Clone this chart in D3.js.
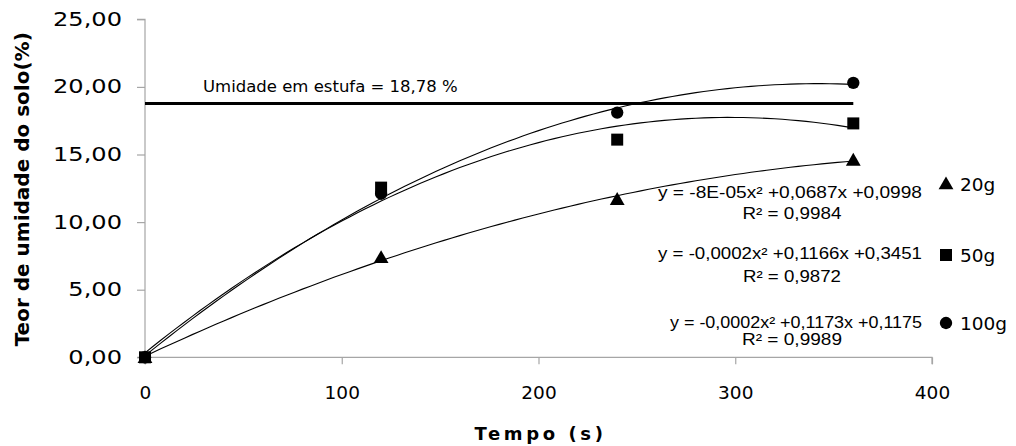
<!DOCTYPE html>
<html>
<head>
<meta charset="utf-8">
<script src="https://cdn.jsdelivr.net/npm/d3@7"></script>
<style>
  body { margin: 0; background: #fff; }
  svg { display: block; }
</style>
</head>
<body>
<div id="chart"></div>
<script>
// tempo (s) e teor de umidade
var tempos = [0, 120, 240, 360];
var umid20 = [0, 7.4, 11.7, 14.6];
var umid50 = [0, 12.55, 16.1, 17.3];
var umid100 = [0, 12.1, 18.1, 20.3];
var seriesNames = ['20g', '50g', '100g'];
var equacoes = [
  'y = -8E-05x² +0,0687x +0,0998',
  'y = -0,0002x² +0,1166x +0,3451',
  'y = -0,0002x² +0,1173x +0,1175'
];
var r2 = ['R² = 0,9984', 'R² = 0,9872', 'R² = 0,9989'];
var estufa = 18.78;
var xTicks = [0, 100, 200, 300, 400];
var yTicks = [0, 5, 10, 15, 20, 25];

var W = 1016, H = 446;
var pLeft = 145, pRight = 932, pTop = 19.3, pBottom = 357.3;

var svg = d3.select('#chart').append('svg')
  .attr('width', W)
  .attr('height', H);

svg.append('rect').attr('width', W).attr('height', H).attr('fill', '#fff');

var x = d3.scaleLinear().domain([0, 400]).range([pLeft, pRight]);
var y = d3.scaleLinear().domain([0, 25]).range([pBottom, pTop]);

var fmt = function(d) { return d3.format('.2f')(d).replace('.', ','); };

// eixos
var yAxis = svg.append('g')
  .attr('transform', 'translate(' + pLeft + ',0)')
  .call(d3.axisLeft(y).tickValues(yTicks).tickSize(8).tickPadding(15).tickFormat(fmt));
yAxis.selectAll('text')
  .attr('font-family', 'DejaVu Sans, Verdana, sans-serif')
  .attr('font-size', 19)
  .attr('textLength', function(d) {
    // largura esticada como no original (rotulos do Excel)
    var digitos = fmt(d).length - 1;
    return 24.1 * (digitos * 0.636 + 0.318);
  })
  .attr('lengthAdjust', 'spacingAndGlyphs')
  .attr('fill', '#000');

var xAxis = svg.append('g')
  .attr('transform', 'translate(0,' + pBottom + ')')
  .call(d3.axisBottom(x).tickValues(xTicks).tickSize(7).tickPadding(22));
xAxis.selectAll('text')
  .attr('font-family', 'DejaVu Sans, Verdana, sans-serif')
  .attr('font-size', 18.5)
  .attr('fill', '#000');

svg.selectAll('.domain, .tick line')
  .attr('stroke', '#a6a6a6')
  .attr('stroke-width', 1.2);
xAxis.select('.domain').attr('d', 'M' + pLeft + ',7V0H' + pRight + 'V7');
yAxis.select('.domain').attr('d', 'M-8,' + pTop + 'H0V' + pBottom + 'H-8');

// titulos
svg.append('text')
  .attr('transform', 'translate(29,' + ((pTop + pBottom) / 2 + 1) + ') rotate(-90)')
  .attr('text-anchor', 'middle')
  .attr('font-family', 'DejaVu Sans, Verdana, sans-serif')
  .attr('font-weight', 'bold')
  .attr('font-size', 20)
  .text('Teor de umidade do solo(%)');

svg.append('text')
  .attr('x', (pLeft + pRight) / 2 + 2)
  .attr('y', 440)
  .attr('text-anchor', 'middle')
  .attr('font-family', 'DejaVu Sans, Verdana, sans-serif')
  .attr('font-weight', 'bold')
  .attr('font-size', 18)
  .attr('letter-spacing', 3.6)
  .text('Tempo (s)');

// linha da umidade em estufa
svg.append('line')
  .attr('x1', x(0)).attr('x2', x(360))
  .attr('y1', y(estufa)).attr('y2', y(estufa))
  .attr('stroke', '#000')
  .attr('stroke-width', 3);

svg.append('text')
  .attr('x', 203)
  .attr('y', y(estufa) - 11)
  .attr('font-family', 'DejaVu Sans, Tahoma, sans-serif')
  .attr('font-size', 16.5)
  .text('Umidade em estufa = ' + fmt(estufa) + ' %');

// ajuste polinomial de 2a ordem (minimos quadrados)
function ajuste(xs, ys) {
  var s = [0, 0, 0, 0, 0], t = [0, 0, 0];
  xs.forEach(function(xi, i) {
    for (var k = 0; k < 5; k++) s[k] += Math.pow(xi, k);
    for (var k = 0; k < 3; k++) t[k] += Math.pow(xi, k) * ys[i];
  });
  var m = [[s[0], s[1], s[2], t[0]], [s[1], s[2], s[3], t[1]], [s[2], s[3], s[4], t[2]]];
  for (var i = 0; i < 3; i++) {
    for (var j = i + 1; j < 3; j++) {
      var f = m[j][i] / m[i][i];
      for (var k = i; k < 4; k++) m[j][k] -= f * m[i][k];
    }
  }
  var c = [0, 0, 0];
  for (var i = 2; i >= 0; i--) {
    var v = m[i][3];
    for (var k = i + 1; k < 3; k++) v -= m[i][k] * c[k];
    c[i] = v / m[i][i];
  }
  return function(xv) { return c[0] + c[1] * xv + c[2] * xv * xv; };
}

var series = [umid20, umid50, umid100];
var line = d3.line().x(function(d) { return x(d[0]); }).y(function(d) { return y(d[1]); });

series.forEach(function(vals) {
  var f = ajuste(tempos, vals);
  var pts = d3.range(0, 361, 4).map(function(t) { return [t, f(t)]; });
  svg.append('path')
    .attr('d', line(pts))
    .attr('fill', 'none')
    .attr('stroke', '#000')
    .attr('stroke-width', 1.1);
});

var simbolos = [
  d3.symbol().type(d3.symbolTriangle).size(95),
  d3.symbol().type(d3.symbolSquare).size(144),
  d3.symbol().type(d3.symbolCircle).size(120)
];

// marcadores: circulo, triangulo e quadrado por cima
[2, 0, 1].forEach(function(si) {
  svg.append('g').selectAll('path')
    .data(tempos.map(function(t, i) { return [t, series[si][i]]; }))
    .enter().append('path')
    .attr('d', simbolos[si])
    .attr('transform', function(d) {
      var dy = si === 0 ? 1.5 : 0;
      return 'translate(' + x(d[0]) + ',' + (y(d[1]) + dy) + ')';
    })
    .attr('fill', '#000');
});

// equacoes das linhas de tendencia
var eqY = [192, 253, 322];
var eqW = [264, 264, 252];
var r2Y = [213, 276, 339];
var r2W = [99, 98, 100];
equacoes.forEach(function(eq, i) {
  svg.append('text')
    .attr('x', 922)
    .attr('y', eqY[i])
    .attr('dy', '0.35em')
    .attr('text-anchor', 'end')
    .attr('font-family', 'Liberation Sans, Arial, sans-serif')
    .attr('font-size', 16.5)
    .attr('textLength', eqW[i])
    .attr('lengthAdjust', 'spacingAndGlyphs')
    .text(eq);
  svg.append('text')
    .attr('x', 792)
    .attr('y', r2Y[i])
    .attr('dy', '0.35em')
    .attr('text-anchor', 'middle')
    .attr('font-family', 'Liberation Sans, Arial, sans-serif')
    .attr('font-size', 16.5)
    .attr('textLength', r2W[i])
    .attr('lengthAdjust', 'spacingAndGlyphs')
    .text(r2[i]);
});

// legenda
var legY = [184, 255, 323];
seriesNames.forEach(function(nome, i) {
  svg.append('path')
    .attr('d', simbolos[i])
    .attr('transform', 'translate(946,' + (legY[i] + (i === 0 ? 1 : 0)) + ')')
    .attr('fill', '#000');
  svg.append('text')
    .attr('x', 960)
    .attr('y', legY[i] + 1)
    .attr('dy', '0.35em')
    .attr('font-family', 'DejaVu Sans, Verdana, sans-serif')
    .attr('font-size', 18.5)
    .text(nome);
});
</script>
</body>
</html>
